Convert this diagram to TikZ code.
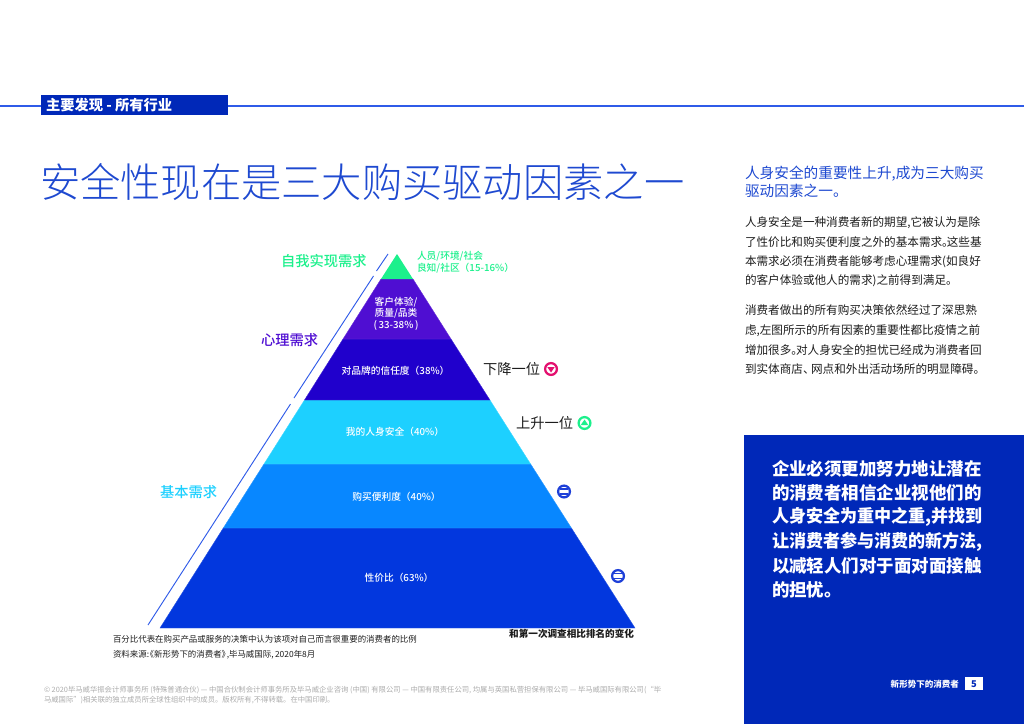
\documentclass[tikz,border=0pt]{standalone}
\usepackage{fontspec}
\setmainfont{Noto Sans CJK SC}
\newfontfamily\cjklight{Noto Sans CJK SC Light}
\newfontfamily\cjkmedium{Noto Sans CJK SC Medium}
\newcommand{\cjkstrut}{\rule[-.12em]{0pt}{1em}}
\newcommand{\fs}[1]{\fontsize{#1}{#1}\selectfont}
\definecolor{kpmgline}{HTML}{2F5BE8}
\definecolor{kpmgdark}{HTML}{0028B8}
\definecolor{headblue}{HTML}{1E49D0}
\definecolor{inkc}{HTML}{1C1C1C}
\definecolor{grayc}{HTML}{ABABAB}
\definecolor{greenc}{HTML}{1CF08C}
\definecolor{purplec}{HTML}{4F0ED2}
\definecolor{darkc}{HTML}{2000CC}
\definecolor{cyanc}{HTML}{1DD0FF}
\definecolor{midc}{HTML}{0887FF}
\definecolor{basec}{HTML}{0237DE}
\definecolor{magc}{HTML}{E3106F}
\definecolor{eqc}{HTML}{1E40D8}
\tikzset{
  txt/.style={inner sep=0pt,outer sep=0pt,anchor=west,execute at begin node=\cjkstrut},
  ctxt/.style={txt,anchor=center},
  rtxt/.style={txt,anchor=east},
  titletxt/.style={txt,text=headblue,font=\cjklight\fs{30.2}},
  headtxt/.style={txt,text=headblue,font=\fs{11}},
  bodytxt/.style={txt,text=inkc,font=\fs{8.7}},
  boxtxt/.style={txt,text=white,font=\bfseries\fs{13.1}},
  needtxt/.style={txt,font=\cjkmedium\fs{10.7}},
  bandtxt/.style={ctxt,text=white,font=\cjkmedium\fs{7.3}},
  ranktxt/.style={txt,text=inkc,font=\fs{10.7}},
  notetxt/.style={txt,text=inkc,font=\fs{6.33}},
  foottxt/.style={txt,text=grayc,font=\fs{5.5}},
  band/.style={draw=#1!85!white,line width=.3pt,fill=#1},
  sepline/.style={draw=kpmgline,line width=.7pt},
  ringicon/.style={line width=1.7pt},
}
\begin{document}
\begin{tikzpicture}[x=.75pt,y=-.75pt]
\useasboundingbox (0,0) rectangle (1024,724);
% header
\fill[kpmgline] (0,104.9) rectangle (1024,106.5);
\fill[kpmgdark] (41,95) rectangle (228,115);
\node[txt,text=white,font=\bfseries\fs{10.7}] (hdr) at (46,105) {主要发现 - 所有行业};
\node[titletxt] (title) at (40,182) {安全性现在是三大购买驱动因素之一};
% right column
\node[headtxt] (h1) at (745,173) {人身安全的重要性上升,成为三大购买};
\node[headtxt] (h2) at (745,191) {驱动因素之一。};
\node[bodytxt] (b1) at (745,222) {人身安全是一种消费者新的期望,它被认为是除};
\node[bodytxt] (b2) at (745,242) {了性价比和购买便利度之外的基本需求。\kern-.6em 这些基};
\node[bodytxt] (b3) at (745,262) {本需求必须在消费者能够考虑心理需求(如良好};
\node[bodytxt] (b4) at (745,281) {的客户体验或他人的需求)之前得到满足。};
\node[bodytxt] (b5) at (745,310) {消费者做出的所有购买决策依然经过了深思熟};
\node[bodytxt] (b6) at (745,330) {虑,左图所示的所有因素的重要性都比疫情之前};
\node[bodytxt] (b7) at (745,350) {增加很多。\kern-.6em 对人身安全的担忧已经成为消费者回};
\node[bodytxt] (b8) at (745,369) {到实体商店、\kern-.3em 网点和外出活动场所的明显障碍。};
% blue box
\fill[kpmgdark] (744,435) rectangle (1024,724);
\node[boxtxt] (k1) at (772,469) {企业必须更加努力地让潜在};
\node[boxtxt] (k2) at (772,493) {的消费者相信企业视他们的};
\node[boxtxt] (k3) at (772,517) {\scalebox{.977}[1]{人身安全为重中之重,并找到}};
\node[boxtxt] (k4) at (772,542) {\scalebox{.977}[1]{让消费者参与消费的新方法,}};
\node[boxtxt] (k5) at (772,566) {以减轻人们对于面对面接触};
\node[boxtxt] (k6) at (772,590) {的担忧。};
\node[rtxt,text=white,font=\bfseries\fs{6.4}] (pg) at (959,684) {新形势下的消费者};
\fill[white] (965,677) rectangle (983,690);
\node[ctxt,text=kpmgdark,font=\bfseries\fs{7}] (pgn) at (974,683.5) {5};
% pyramid
\fill[band=basec] (223.3,528) -- (571.4,528) -- (635,628) -- (160,628) -- cycle;
\fill[band=midc] (264,464) -- (530.6,464) -- (571.4,528) -- (223.3,528) -- cycle;
\fill[band=cyanc] (304.5,400) -- (489.9,400) -- (530.6,464) -- (264,464) -- cycle;
\fill[band=darkc] (343,339) -- (451,339) -- (489.9,400) -- (304.5,400) -- cycle;
\fill[band=purplec] (381,279) -- (413,279) -- (451,339) -- (343,339) -- cycle;
\fill[greenc] (397,254) -- (413,279) -- (381,279) -- cycle;
% side separators
\coordinate (s1a) at (388,254); \coordinate (s1b) at (376.5,271);
\coordinate (s2a) at (373.5,276); \coordinate (s2b) at (294,398);
\coordinate (s3a) at (290.5,404); \coordinate (s3b) at (148,625);
\draw[sepline] (s1a) -- (s1b);
\draw[sepline] (s2a) -- (s2b);
\draw[sepline] (s3a) -- (s3b);
% need labels
\node[needtxt,text=greenc] (n1) at (281,261) {自我实现需求};
\node[needtxt,text=purplec] (n2) at (261,340) {心理需求};
\node[needtxt,text=cyanc] (n3) at (160,492) {基本需求};
% band labels
\node[txt,text=greenc,font=\cjkmedium\fs{7.3}] (g1) at (417,256) {人员/环境/社会};
\node[txt,text=greenc,font=\cjkmedium\fs{7.3}] (g2) at (417,268) {良知/社区（15-16\%）};
\node[bandtxt] (p1) at (396,302) {客户体验/};
\node[bandtxt] (p2) at (396,313) {质量/品类};
\node[bandtxt] (p3) at (396,325) {(\,33-38\%\,)};
\node[bandtxt] (d1) at (395.5,371) {对品牌的信任度（38\%）};
\node[bandtxt] (c1) at (395,432) {我的人身安全（40\%）};
\node[bandtxt] (m1) at (396.5,497) {购买便利度（40\%）};
\node[bandtxt] (s1) at (399,578) {性价比（63\%）};
% rank changes
\node[ranktxt] (r1) at (483,369) {下降一位};
\node[ranktxt] (r2) at (516,423) {上升一位};
\draw[magc,ringicon] (551,369) circle (5.9);
\fill[magc] (547.3,367) -- (554.7,367) -- (551,372.5) -- cycle;
\draw[greenc,ringicon] (584.5,423) circle (5.9);
\fill[greenc] (580.8,425) -- (588.2,425) -- (584.5,419.5) -- cycle;
\draw[eqc,ringicon] (564,491.5) circle (5.9);
\draw[eqc,line width=1.1pt] (560,489.2) -- (568,489.2) (560,493.8) -- (568,493.8);
\draw[eqc,ringicon] (618,576) circle (5.9);
\draw[eqc,line width=1.1pt] (614,573.7) -- (622,573.7) (614,578.3) -- (622,578.3);
% notes
\node[rtxt,text=inkc,font=\bfseries\fs{7.2}] (rk) at (634,633.5) {和第一次调查相比排名的变化};
\node[notetxt] (nt1) at (113,639) {百分比代表在购买产品或服务的决策中认为该项对自己而言很重要的消费者的比例};
\node[notetxt] (nt2) at (113,655) {资料来源:\kern-.4em《新形势下的消费者》\kern-.4em,毕马威国际,\,2020年8月};
\node[foottxt] (f1) at (44,690) {© 2020毕马威华振会计师事务所 (特殊普通合伙) — 中国合伙制会计师事务所及毕马威企业咨询 (中国) 有限公司 — 中国有限责任公司, 均属与英国私营担保有限公司 — 毕马威国际有限公司(“毕};
\node[foottxt] (f2) at (44,700) {马威国际”)相关联的独立成员所全球性组织中的成员。版权所有,不得转载。在中国印刷。};
\end{tikzpicture}
\end{document}
